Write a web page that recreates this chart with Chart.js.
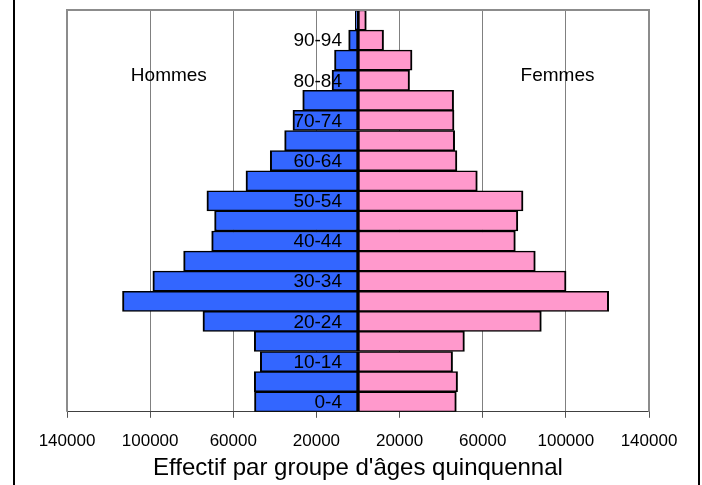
<!DOCTYPE html>
<html>
<head>
<meta charset="utf-8">
<script src="https://cdn.jsdelivr.net/npm/chart.js@4/dist/chart.umd.min.js"></script>
<style>
  html, body { margin: 0; padding: 0; background: #fff; }
  #wrap { position: relative; width: 702px; height: 485px; }
  #frame {
    position: absolute; left: 13px; top: 0; width: 687px; height: 485px;
    box-sizing: border-box; border-left: 2px solid #000; border-right: 2px solid #000;
    pointer-events: none;
  }
  canvas { display: block; }
</style>
</head>
<body>
<div id="wrap">
  <canvas id="pyramide" width="702" height="485"></canvas>
  <div id="frame"></div>
</div>
<script>
// Groupes d'âges quinquennaux, du plus jeune au plus âgé
const ages = ['0-4', '5-9', '10-14', '15-19', '20-24', '25-29', '30-34', '35-39', '40-44', '45-49',
              '50-54', '55-59', '60-64', '65-69', '70-74', '75-79', '80-84', '85-89', '90-94', '95-99'];

// Effectifs par sexe
const hommes = [49800, 49900, 47000, 49900, 74600, 113300, 98700, 83900, 70400, 69000,
                72700, 53900, 42200, 35300, 31300, 26600, 12500, 11300, 4500, 1300];
const femmes = [47300, 47900, 45500, 51200, 88200, 120600, 100100, 85300, 75700, 76900,
                79400, 57400, 47600, 46500, 46200, 46000, 24800, 26000, 12300, 4000];

// Graduations de l'axe horizontal
const graduations = [-140000, -100000, -60000, -20000, 20000, 60000, 100000, 140000];

const FONT = "'Liberation Sans', Arial, Helvetica, sans-serif";

// Cadre gris de la zone de tracé (haut, gauche, droite)
const cadre = {
  id: 'cadre',
  afterDatasetsDraw(chart) {
    const { ctx, chartArea: a } = chart;
    ctx.save();
    ctx.strokeStyle = '#8c8c8c';
    ctx.lineWidth = 2;
    ctx.beginPath();
    ctx.moveTo(a.left, a.bottom);
    ctx.lineTo(a.left, a.top);
    ctx.lineTo(a.right, a.top);
    ctx.lineTo(a.right, a.bottom);
    ctx.stroke();
    ctx.restore();
  }
};

// Libellés des groupes d'âges (un sur deux) au centre, et libellés des sexes
const libelles = {
  id: 'libelles',
  afterDatasetsDraw(chart) {
    const { ctx } = chart;
    const x = chart.scales.x, y = chart.scales.y;
    ctx.save();
    ctx.fillStyle = '#000';
    ctx.font = '19px ' + FONT;
    ctx.textAlign = 'right';
    ctx.textBaseline = 'middle';
    const x0 = x.getPixelForValue(0) - 16;
    ages.forEach((lab, i) => {
      if (i % 2 === 0) ctx.fillText(lab, x0, y.getPixelForValue(i) + 1);
    });
    ctx.textAlign = 'center';
    const yS = y.getPixelForValue(16) - 5;
    ctx.fillText('Hommes', x.getPixelForValue(-91000), yS);
    ctx.fillText('Femmes', x.getPixelForValue(96000), yS);
    ctx.restore();
  }
};

new Chart(document.getElementById('pyramide'), {
  type: 'bar',
  data: {
    labels: ages,
    datasets: [
      {
        label: 'Hommes',
        data: hommes.map(v => -v),
        backgroundColor: '#3366ff',
        borderColor: '#000',
        borderWidth: { top: 1.5, bottom: 1.5, left: 2, right: 2 },
        borderSkipped: false,
        barPercentage: 1,
        categoryPercentage: 1
      },
      {
        label: 'Femmes',
        data: femmes,
        backgroundColor: '#ff99cc',
        borderColor: '#000',
        borderWidth: { top: 1.5, bottom: 1.5, left: 2, right: 2 },
        borderSkipped: false,
        barPercentage: 1,
        categoryPercentage: 1
      }
    ]
  },
  options: {
    indexAxis: 'y',
    responsive: false,
    animation: false,
    devicePixelRatio: 1,
    layout: { padding: { left: 67, right: 53, top: 10, bottom: 2 } },
    plugins: {
      legend: { display: false },
      tooltip: { enabled: false }
    },
    scales: {
      x: {
        type: 'linear',
        stacked: true,
        min: -140000,
        max: 140000,
        afterBuildTicks(scale) {
          scale.ticks = graduations.map(v => ({ value: v }));
        },
        grid: {
          color: '#808080',
          lineWidth: 1,
          tickLength: 6,
          tickColor: '#555'
        },
        border: { display: true, color: '#404040', width: 1 },
        ticks: {
          color: '#000',
          font: { family: FONT, size: 17 },
          padding: 13,
          maxRotation: 0,
          callback: v => String(Math.abs(v))
        },
        title: {
          display: true,
          text: "Effectif par groupe d'âges quinquennal",
          color: '#000',
          font: { family: FONT, size: 24 },
          padding: { top: -10, bottom: 0 }
        }
      },
      y: {
        type: 'category',
        stacked: true,
        reverse: true,
        display: false,
        grid: { display: false }
      }
    }
  },
  plugins: [cadre, libelles]
});
</script>
</body>
</html>
